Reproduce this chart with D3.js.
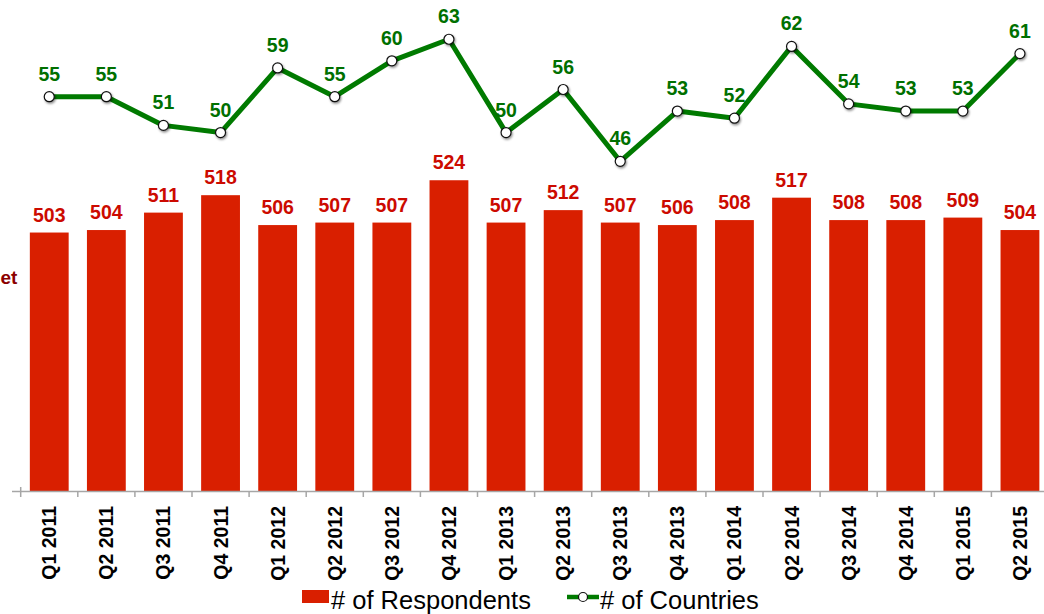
<!DOCTYPE html>
<html>
<head>
<meta charset="utf-8">
<script src="https://cdn.jsdelivr.net/npm/d3@7/dist/d3.min.js"></script>
<style>
  html, body { margin: 0; padding: 0; background: #fff; }
  svg { display: block; font-family: "Liberation Sans", Arial, sans-serif; }
</style>
</head>
<body>
<svg id="chart" width="1044" height="614"></svg>
<script>
const categories = ["Q1 2011","Q2 2011","Q3 2011","Q4 2011","Q1 2012","Q2 2012","Q3 2012","Q4 2012",
  "Q1 2013","Q2 2013","Q3 2013","Q4 2013","Q1 2014","Q2 2014","Q3 2014","Q4 2014","Q1 2015","Q2 2015"];
const respondents = [503,504,511,518,506,507,507,524,507,512,507,506,508,517,508,508,509,504];
const countries = [55,55,51,50,59,55,60,63,50,56,46,53,52,62,54,53,53,61];
const seriesNames = ["# of Respondents", "# of Countries"];
const leftTitle = "et";

const svg = d3.select("#chart");
const x0 = 20.7, step = 57.1;
const axisY = 491.5;
const x = d3.scaleBand().domain(categories)
  .range([x0, x0 + step * categories.length])
  .paddingInner(0.32).paddingOuter(0.16);
const yBar = d3.scaleLinear().domain([399, 600]).range([axisY, -9]);
const yLine = d3.scaleLinear().domain([0, 70]).range([axisY, -11]);

const defs = svg.append("defs");
const f = defs.append("filter").attr("id", "sh").attr("x", "-50%").attr("y", "-50%").attr("width", "200%").attr("height", "200%");
f.append("feDropShadow").attr("dx", 1).attr("dy", 1.5).attr("stdDeviation", 0.8).attr("flood-color", "#000").attr("flood-opacity", 0.45);

// bars
svg.append("g").selectAll("rect").data(categories).join("rect")
  .attr("x", d => x(d))
  .attr("y", (d, i) => yBar(respondents[i]))
  .attr("width", x.bandwidth())
  .attr("height", (d, i) => axisY - yBar(respondents[i]))
  .attr("fill", "#d91f00");

// bar labels
svg.append("g").selectAll("text").data(categories).join("text")
  .attr("x", d => x(d) + x.bandwidth() / 2)
  .attr("y", (d, i) => yBar(respondents[i]) - 11)
  .attr("text-anchor", "middle")
  .attr("font-size", 19.5).attr("font-weight", "bold")
  .attr("fill", "#cc0a00")
  .text((d, i) => respondents[i]);

// x axis
const axisG = svg.append("g");
axisG.append("line").attr("x1", 12).attr("x2", 1044).attr("y1", axisY).attr("y2", axisY)
  .attr("stroke", "#a6a6a6").attr("stroke-width", 1.5);
axisG.append("line").attr("x1", x0).attr("x2", x0).attr("y1", axisY - 4.5).attr("y2", axisY + 5.5)
  .attr("stroke", "#a6a6a6").attr("stroke-width", 1.5);
axisG.selectAll("line.tk").data(categories.slice(1)).join("line").attr("class", "tk")
  .attr("x1", d => x(d) - x.step() * x.paddingInner() / 2)
  .attr("x2", d => x(d) - x.step() * x.paddingInner() / 2)
  .attr("y1", axisY).attr("y2", axisY + 5.5)
  .attr("stroke", "#a6a6a6").attr("stroke-width", 1.5);
axisG.selectAll("text").data(categories).join("text")
  .attr("transform", d => `translate(${x(d) + x.bandwidth() / 2 + 7},506) rotate(-90)`)
  .attr("text-anchor", "end")
  .attr("font-size", 19.5).attr("font-weight", "bold").attr("fill", "#000")
  .text(d => d);

// left title fragment
svg.append("text").attr("x", 0.5).attr("y", 284).attr("text-anchor", "start")
  .attr("font-size", 19).attr("font-weight", "bold").attr("fill", "#8b0000").text(leftTitle);

// line
const cx = d => x(d) + x.bandwidth() / 2;
const line = d3.line().x(d => cx(d)).y((d, i) => yLine(countries[i]));
svg.append("path").datum(categories).attr("d", line)
  .attr("fill", "none").attr("stroke", "#007a00").attr("stroke-width", 5).attr("stroke-linejoin", "round");
svg.append("g").selectAll("circle").data(categories).join("circle")
  .attr("cx", cx).attr("cy", (d, i) => yLine(countries[i])).attr("r", 5)
  .attr("fill", "#fff").attr("stroke", "#111").attr("stroke-width", 1.2).attr("filter", "url(#sh)");
svg.append("g").selectAll("text").data(categories).join("text")
  .attr("x", cx).attr("y", (d, i) => yLine(countries[i]) - 16)
  .attr("text-anchor", "middle")
  .attr("font-size", 19.5).attr("font-weight", "bold").attr("fill", "#007000")
  .text((d, i) => countries[i]);

// legend
const lg = svg.append("g");
lg.append("rect").attr("x", 302).attr("y", 590).attr("width", 27).attr("height", 13).attr("fill", "#d91f00");
lg.append("text").attr("x", 331).attr("y", 608.5).attr("font-size", 25.5).attr("fill", "#000").text(seriesNames[0]);
lg.append("line").attr("x1", 567).attr("x2", 599).attr("y1", 597).attr("y2", 597).attr("stroke", "#007a00").attr("stroke-width", 4.5);
lg.append("circle").attr("cx", 583).attr("cy", 597).attr("r", 4.5).attr("fill", "#fff").attr("stroke", "#111").attr("stroke-width", 1.2);
lg.append("text").attr("x", 600).attr("y", 608.5).attr("font-size", 25.5).attr("fill", "#000").text(seriesNames[1]);
</script>
</body>
</html>
